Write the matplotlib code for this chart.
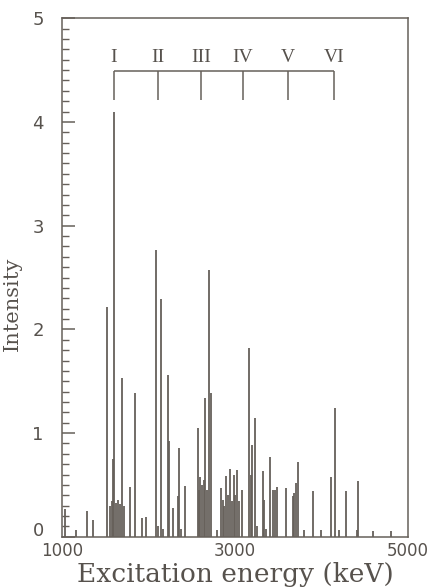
import numpy as np
import matplotlib
matplotlib.use("Agg")
import matplotlib.pyplot as plt
import matplotlib.transforms as mtransforms
from matplotlib.ticker import MultipleLocator

# level energies (keV) and intensities
energy = [1035, 1162, 1289, 1358, 1520, 1555, 1578, 1590, 1601, 1624, 1647,
          1670, 1694, 1717, 1786, 1844, 1925, 1971, 2087, 2110, 2144, 2168,
          2225, 2237, 2283, 2341, 2352, 2376, 2422, 2572, 2584, 2595, 2618,
          2642, 2653, 2676, 2699, 2722, 2792, 2838, 2861, 2873, 2896, 2919,
          2942, 2965, 2988, 3000, 3023, 3046, 3081, 3162, 3185, 3196, 3231,
          3254, 3324, 3335, 3358, 3404, 3439, 3462, 3485, 3589, 3670, 3682,
          3705, 3728, 3798, 3902, 3994, 4110, 4156, 4202, 4283, 4410, 4422,
          4595, 4803]
intensity = [0.27, 0.07, 0.25, 0.16, 2.22, 0.30, 0.35, 0.75, 4.10, 0.33, 0.36,
             0.32, 1.53, 0.30, 0.48, 1.39, 0.18, 0.19, 2.77, 0.10, 2.29, 0.08,
             1.56, 0.92, 0.28, 0.39, 0.86, 0.08, 0.49, 1.05, 0.45, 0.58, 0.50,
             0.55, 1.34, 0.45, 2.57, 1.39, 0.07, 0.47, 0.36, 0.30, 0.59, 0.40,
             0.65, 0.35, 0.60, 0.40, 0.64, 0.35, 0.45, 1.82, 0.60, 0.89, 1.15,
             0.10, 0.63, 0.36, 0.08, 0.77, 0.45, 0.45, 0.48, 0.47, 0.39, 0.42,
             0.52, 0.72, 0.07, 0.44, 0.07, 0.58, 1.24, 0.07, 0.44, 0.07, 0.54,
             0.06, 0.06]

# band members marked at the top
band_labels = ["I", "II", "III", "IV", "V", "VI"]
band_energy = [1601, 2110, 2607, 3092, 3613, 4144]

ink = "#66605a"
txt = "#57524d"

fig = plt.figure(figsize=(4.33, 5.88), dpi=100)
ax = fig.add_axes([0.143, 0.087, 0.799, 0.882])

ax.vlines(energy, 0, intensity, color=ink, linewidth=1.3)

# bracket over the band
ax.hlines(4.49, band_energy[0], band_energy[-1], color=ink, linewidth=1.1)
ax.vlines(band_energy, 4.21, 4.49, color=ink, linewidth=1.1)
for lab, e in zip(band_labels, band_energy):
    ax.text(e, 4.62, lab, ha="center", va="center", color=txt,
            family="Liberation Serif", fontsize=14)

ax.set_xlim(1000, 5000)
ax.set_ylim(0, 5)
ax.set_xticks([1000, 3000, 5000])
ax.set_yticks([0, 1, 2, 3, 4, 5])
ax.yaxis.set_minor_locator(MultipleLocator(0.1))
ax.tick_params(axis="y", which="major", direction="in", length=9, width=1.1,
               color=ink, pad=13, labelsize=13, labelcolor=txt)
ax.tick_params(axis="y", which="minor", direction="in", length=5, width=1.0,
               color=ink, left=True)
ax.tick_params(axis="x", which="major", direction="in", length=0, pad=4,
               labelsize=12, labelcolor=txt)
ax.tick_params(axis="x", which="minor", length=0)

# the "0" sits a little above the baseline, just over "1000"
lab0 = ax.get_yticklabels()[0]
lab0.set_transform(lab0.get_transform() +
                   mtransforms.ScaledTranslation(0, 6 / 72, fig.dpi_scale_trans))

for s in ax.spines.values():
    s.set_color(ink)
    s.set_linewidth(1.1)

ax.set_xlabel("Excitation energy (keV)", family="DejaVu Serif", fontsize=19,
              color=txt, labelpad=1)
ax.set_ylabel("Intensity", family="DejaVu Serif", fontsize=15, color=txt)
ax.yaxis.set_label_coords(-0.115, 0.45)

fig.savefig("out.png", dpi=100)
